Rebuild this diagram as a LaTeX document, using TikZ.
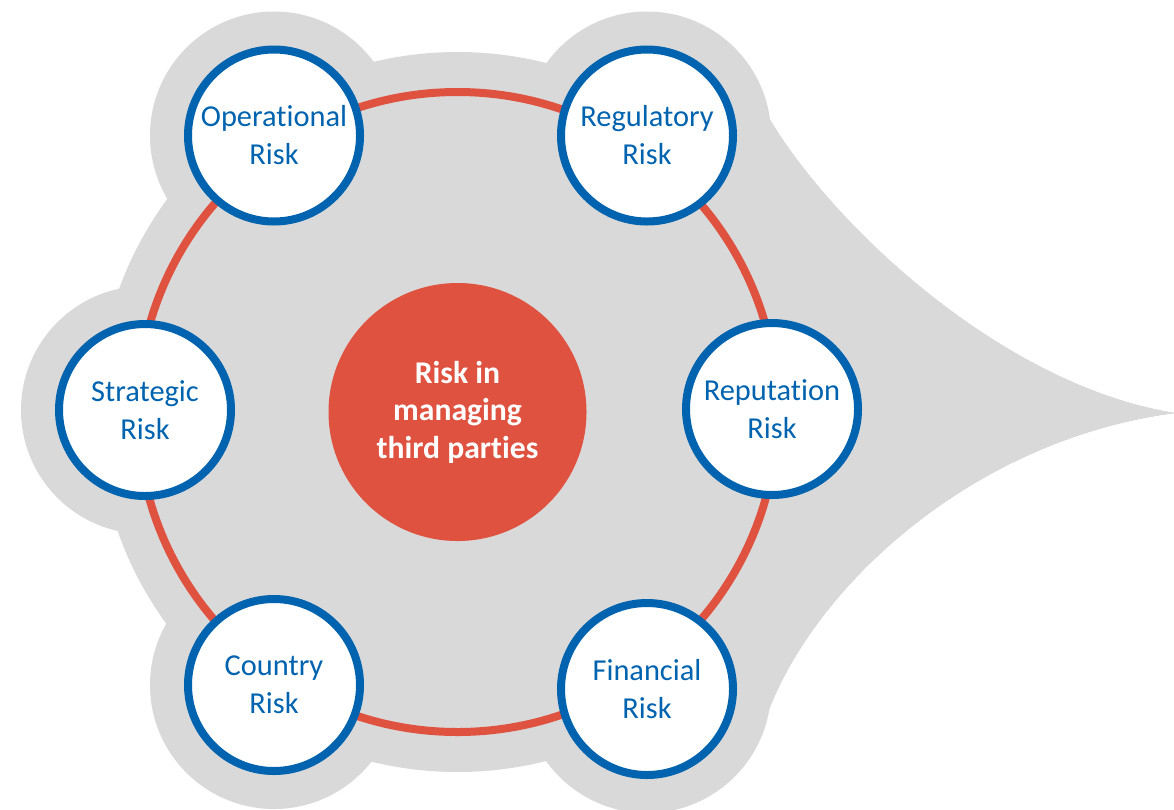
\documentclass[tikz,border=0pt]{standalone}
\usepackage{fontspec}
\setmainfont{Carlito}[Ligatures=NoCommon]
\usepackage{tikz}
\tikzstyle{plane} = [x = .2mm, y = -.2mm]
\definecolor{riskBlue}{RGB}{0,99,175}
\definecolor{riskRed}{RGB}{224,82,64}
\definecolor{blobGray}{RGB}{217,217,217}
\tikzstyle{blobFill} = [fill=blobGray]
\tikzstyle{ringLine} = [draw=riskRed, line width=1.6mm]
\tikzstyle{riskCircle} = [circle, draw=riskBlue, line width=1.6mm, fill=white, minimum size=3.44cm, inner sep=0pt, align=center, text=riskBlue, font=\fontsize{17.3}{21.6}\selectfont]
\tikzstyle{hubCircle} = [circle, fill=riskRed, minimum size=5.16cm, inner sep=0pt, align=center, text=white, font=\fontsize{18}{21.3}\selectfont\bfseries]
\newcommand{\bulgeRadius}{124}
\newcommand{\grayBulge}[1]{\fill [blobFill] (#1) circle (\bulgeRadius);}
\newcommand{\riskBubble}[3]{\node [riskCircle] (#1) at (#2) {#3};}

\begin{document}
\begin{tikzpicture}[plane]
       \useasboundingbox (0,0) rectangle (1174,809);
       \coordinate (hubPos) at (457.5,412);
       \coordinate (opPos) at (274,135.5);
       \coordinate (regPos) at (647,135.5);
       \coordinate (strPos) at (145,410);
       \coordinate (repPos) at (772,409);
       \coordinate (couPos) at (274,685);
       \coordinate (finPos) at (647,689);
       \coordinate (tailTop) at (763,108);
       \coordinate (tailTip) at (1174,413);
       \coordinate (tailBottom) at (765,720);

       % gray background
       \fill [blobFill] (hubPos) circle (360);
       \foreach \pos in {opPos,regPos,strPos,repPos,couPos,finPos}
         \grayBulge{\pos}
       \fill [blobFill] (tailTop) .. controls (825,220) and (1000,385) .. (tailTip)
         .. controls (970,440) and (810,590) .. (tailBottom) -- (600,414) -- cycle;

       \node [hubCircle] (hub) at (hubPos) {Risk in\\managing\\third parties};
       \draw [ringLine] (hub.center) circle (320);

       \riskBubble{operational}{opPos}{Operational\\Risk}
       \riskBubble{regulatory}{regPos}{Regulatory\\Risk}
       \riskBubble{strategic}{strPos}{Strategic\\Risk}
       \riskBubble{reputation}{repPos}{Reputation\\Risk}
       \riskBubble{country}{couPos}{Country\\Risk}
       \riskBubble{financial}{finPos}{Financial\\Risk}
     \end{tikzpicture}
\end{document}
